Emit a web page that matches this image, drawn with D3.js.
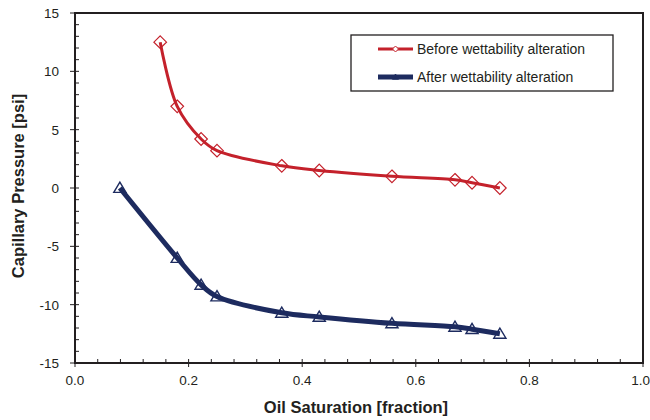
<!DOCTYPE html>
<html><head><meta charset="utf-8">
<script src="https://cdn.jsdelivr.net/npm/d3@7"></script>
<style>body{margin:0;background:#fff}text{font-family:"Liberation Sans",Arial,sans-serif}</style>
</head><body><svg id="c" width="650" height="420"></svg>
<script>
const seriesNames = ["Before wettability alteration", "After wettability alteration"];
const saturation = [0.15, 0.18, 0.222, 0.25, 0.364, 0.43, 0.558, 0.669, 0.699, 0.748];
const beforePc = [12.5, 7.0, 4.2, 3.2, 1.9, 1.5, 1.0, 0.7, 0.45, 0.0];
const afterSat = [0.079, 0.18, 0.222, 0.25, 0.364, 0.43, 0.558, 0.669, 0.699, 0.748];
const afterPc = [0.0, -6.0, -8.3, -9.3, -10.7, -11.05, -11.6, -11.9, -12.1, -12.5];
const xTicks = [0, 0.2, 0.4, 0.6, 0.8, 1.0];
const yTicks = [-15, -10, -5, 0, 5, 10, 15];

const svg = d3.select("#c");
const L = 75, R = 643, T = 13, B = 363;
const x = d3.scaleLinear().domain([0, 1]).range([L, R]);
const y = d3.scaleLinear().domain([-15, 15]).range([B, T]);

svg.append("rect").attr("x", L).attr("y", T).attr("width", R - L).attr("height", B - T)
  .attr("fill", "none").attr("stroke", "#231f20").attr("stroke-width", 2);

const g = svg.append("g").attr("stroke", "#231f20").attr("stroke-width", 1);
d3.range(-15, 15.01, 1).forEach(v => {
  const major = Math.abs(v % 5) < 1e-9;
  g.append("line").attr("x1", major ? L - 5 : L).attr("x2", L + 4).attr("y1", y(v)).attr("y2", y(v));
});
d3.range(0, 1.001, 0.04).forEach(v => {
  const major = Math.abs(Math.round(v * 5) - v * 5) < 1e-6;
  g.append("line").attr("x1", x(v)).attr("x2", x(v)).attr("y1", major ? B + 4 : B).attr("y2", B - 4);
});

svg.append("g").selectAll("text").data(yTicks).join("text")
  .attr("x", L - 16).attr("y", d => y(d) + 5).attr("text-anchor", "end")
  .attr("font-size", 13.5).attr("fill", "#231f20").text(d => d);
svg.append("g").selectAll("text").data(xTicks).join("text")
  .attr("x", d => d === 1 ? 650 : x(d)).attr("y", B + 22)
  .attr("text-anchor", d => d === 1 ? "end" : "middle")
  .attr("font-size", 13.5).attr("fill", "#231f20").text(d => d.toFixed(1));

svg.append("text").attr("x", 356).attr("y", 413).attr("text-anchor", "middle")
  .attr("font-size", 16.5).attr("font-weight", "bold").attr("fill", "#231f20").text("Oil Saturation [fraction]");
svg.append("text").attr("transform", "translate(24,186) rotate(-90)").attr("text-anchor", "middle")
  .attr("font-size", 16.5).attr("font-weight", "bold").attr("fill", "#231f20").text("Capillary Pressure [psi]");

const red = "#c4212b", blue = "#1d2b5f";
const line = d3.line().x(d => x(d[0])).y(d => y(d[1])).curve(d3.curveCatmullRom.alpha(0.5));
const before = saturation.map((s, i) => [s, beforePc[i]]);
const after = afterSat.map((s, i) => [s, afterPc[i]]);

svg.append("path").datum(before).attr("d", line).attr("fill", "none").attr("stroke", red).attr("stroke-width", 3);
svg.append("path").datum(after).attr("d", line).attr("fill", "none").attr("stroke", blue).attr("stroke-width", 5);

const diamond = (cx, cy, r) => `M${cx},${cy - r}L${cx + r},${cy}L${cx},${cy + r}L${cx - r},${cy}Z`;
const tri = (cx, cy, r) => `M${cx},${cy - r}L${cx + r * 1.05},${cy + r * 0.75}L${cx - r * 1.05},${cy + r * 0.75}Z`;

svg.append("g").selectAll("path").data(before).join("path")
  .attr("d", d => diamond(x(d[0]), y(d[1]), 6.3)).attr("fill", "none")
  .attr("stroke", red).attr("stroke-width", 1.2);
svg.append("g").selectAll("path").data(after).join("path")
  .attr("d", d => tri(x(d[0]), y(d[1]), 5.8)).attr("fill", "none")
  .attr("stroke", blue).attr("stroke-width", 1.4);

svg.append("rect").attr("x", 351).attr("y", 35).attr("width", 262).attr("height", 56)
  .attr("fill", "white").attr("stroke", "#231f20").attr("stroke-width", 1.3);
const legY = [49, 77];
svg.append("line").attr("x1", 378).attr("x2", 413).attr("y1", legY[0]).attr("y2", legY[0]).attr("stroke", red).attr("stroke-width", 3);
svg.append("path").attr("d", diamond(395.5, legY[0], 3)).attr("fill", "white").attr("stroke", red).attr("stroke-width", 1);
svg.append("line").attr("x1", 378).attr("x2", 413).attr("y1", legY[1]).attr("y2", legY[1]).attr("stroke", blue).attr("stroke-width", 5);
svg.append("path").attr("d", tri(395.5, legY[1], 3)).attr("fill", "none").attr("stroke", blue).attr("stroke-width", 1);
svg.append("g").selectAll("text").data(seriesNames).join("text")
  .attr("x", 417).attr("y", (d, i) => legY[i] + 5).attr("font-size", 14).attr("fill", "#231f20").text(d => d);
</script></body></html>
